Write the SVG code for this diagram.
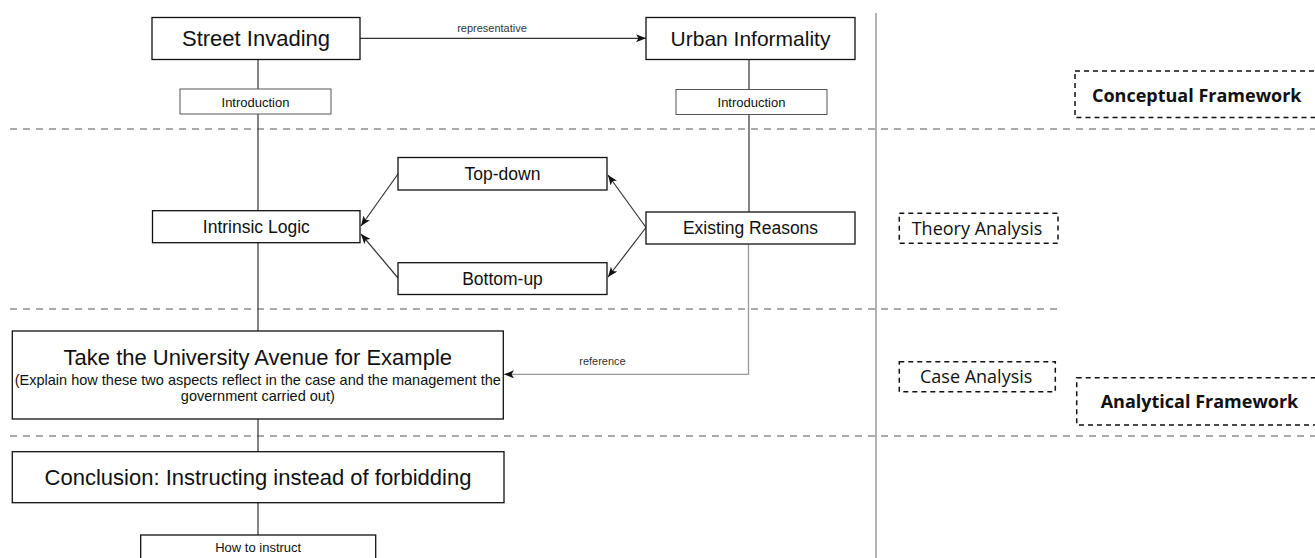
<svg xmlns="http://www.w3.org/2000/svg" width="1315" height="558" viewBox="0 0 1315 558">
<style>
.box{fill:#fff;stroke:#111;stroke-width:1.3}
.sub{fill:#fff;stroke:#555;stroke-width:1}
.t{font-family:"Liberation Sans",Arial,sans-serif;fill:#111;text-anchor:middle}
.conn{stroke:#333;stroke-width:1.2;fill:none}
.ref{stroke:#999;stroke-width:1.3;fill:none}
.dash{stroke:#aaa;stroke-width:2;stroke-dasharray:7 6;fill:none}
.vsep{stroke:#999;stroke-width:1.5}
.tag{fill:none;stroke:#111;stroke-width:1.5;stroke-dasharray:5 4}
.tl{font-family:"Open Sans","Noto Sans",sans-serif;font-size:18px;fill:#111}
.lbl{font-family:"Liberation Sans",Arial,sans-serif;font-size:11px;fill:#333;text-anchor:middle}
</style>
<defs>
<marker id="arr" markerWidth="11" markerHeight="9" refX="10" refY="4" orient="auto" markerUnits="userSpaceOnUse">
<path d="M0,0 L10,4 L0,8 L2.5,4 z" fill="#111"/>
</marker>
</defs>
<rect width="1315" height="558" fill="#fff"/>
<g id="separators">
<line class="dash" x1="10" y1="129" x2="1315" y2="129"/>
<line class="dash" x1="10" y1="309" x2="1058" y2="309"/>
<line class="dash" x1="10" y1="436" x2="1315" y2="436"/>
<line class="vsep" x1="876" y1="13" x2="876" y2="558"/>
</g>
<g id="connectors">
<line class="conn" x1="258" y1="59" x2="258" y2="535"/>
<line class="conn" x1="749" y1="59" x2="749" y2="212"/>
<line class="conn" x1="360" y1="38.3" x2="646" y2="38.3" marker-end="url(#arr)"/>
<text class="lbl" x="492" y="31.5">representative</text>
<line class="conn" x1="398" y1="174" x2="361" y2="226" marker-end="url(#arr)"/>
<line class="conn" x1="398" y1="278" x2="361" y2="234" marker-end="url(#arr)"/>
<line class="conn" x1="646" y1="227.5" x2="608" y2="175" marker-end="url(#arr)"/>
<line class="conn" x1="646" y1="227.5" x2="608" y2="277" marker-end="url(#arr)"/>
<polyline class="ref" points="748.5,244 748.5,374.3 504,374.3" marker-end="url(#arr)"/>
<text class="lbl" x="602.5" y="365">reference</text>
</g>
<g id="street-invading">
<rect class="box" x="152" y="17.5" width="208" height="42"/>
<text class="t" x="256" y="46" font-size="22">Street Invading</text>
</g>
<g id="urban-informality">
<rect class="box" x="646" y="17.5" width="209" height="42"/>
<text class="t" x="750.5" y="46" font-size="21">Urban Informality</text>
</g>
<g id="intro-left">
<rect class="sub" x="180" y="89" width="151" height="25"/>
<text class="t" x="255.5" y="106.5" font-size="13">Introduction</text>
</g>
<g id="intro-right">
<rect class="sub" x="676" y="89.5" width="151" height="25"/>
<text class="t" x="751.5" y="107" font-size="13">Introduction</text>
</g>
<g id="top-down">
<rect class="box" x="398" y="157.5" width="209" height="32.5"/>
<text class="t" x="502.5" y="180" font-size="17.5">Top-down</text>
</g>
<g id="intrinsic-logic">
<rect class="box" x="152.5" y="210.7" width="207.5" height="32"/>
<text class="t" x="256.3" y="233" font-size="17.5">Intrinsic Logic</text>
</g>
<g id="existing-reasons">
<rect class="box" x="646" y="212" width="209" height="32"/>
<text class="t" x="750.5" y="234.3" font-size="17.5">Existing Reasons</text>
</g>
<g id="bottom-up">
<rect class="box" x="398" y="262.7" width="209" height="31.8"/>
<text class="t" x="502.5" y="284.5" font-size="17.5">Bottom-up</text>
</g>
<g id="case-example">
<rect class="box" x="12.3" y="331" width="491" height="88"/>
<text class="t" x="257.8" y="365" font-size="22">Take the University Avenue for Example</text>
<text class="t" x="257.8" y="384.5" font-size="14.5">(Explain how these two aspects reflect in the case and the management the</text>
<text class="t" x="257.8" y="400.5" font-size="14.5">government carried out)</text>
</g>
<g id="conclusion">
<rect class="box" x="12.3" y="451.7" width="491.7" height="51"/>
<text class="t" x="258" y="485" font-size="22">Conclusion: Instructing instead of forbidding</text>
</g>
<g id="how-to-instruct">
<rect class="box" x="140.7" y="535" width="235" height="30"/>
<text class="t" x="258.2" y="551.7" font-size="13">How to instruct</text>
</g>
<g id="conceptual-framework">
<rect class="tag" x="1075" y="71" width="250" height="46.5"/>
<text class="tl" x="1092" y="102" font-weight="bold">Conceptual Framework</text>
</g>
<g id="theory-analysis">
<rect class="tag" x="899.3" y="213.3" width="158.7" height="30"/>
<text class="tl" x="911.7" y="234.5">Theory Analysis</text>
</g>
<g id="case-analysis">
<rect class="tag" x="899.3" y="361.7" width="156" height="30"/>
<text class="tl" x="920" y="383">Case Analysis</text>
</g>
<g id="analytical-framework">
<rect class="tag" x="1076.7" y="377.7" width="250" height="47.3"/>
<text class="tl" x="1100.7" y="408" font-weight="bold">Analytical Framework</text>
</g>
</svg>
